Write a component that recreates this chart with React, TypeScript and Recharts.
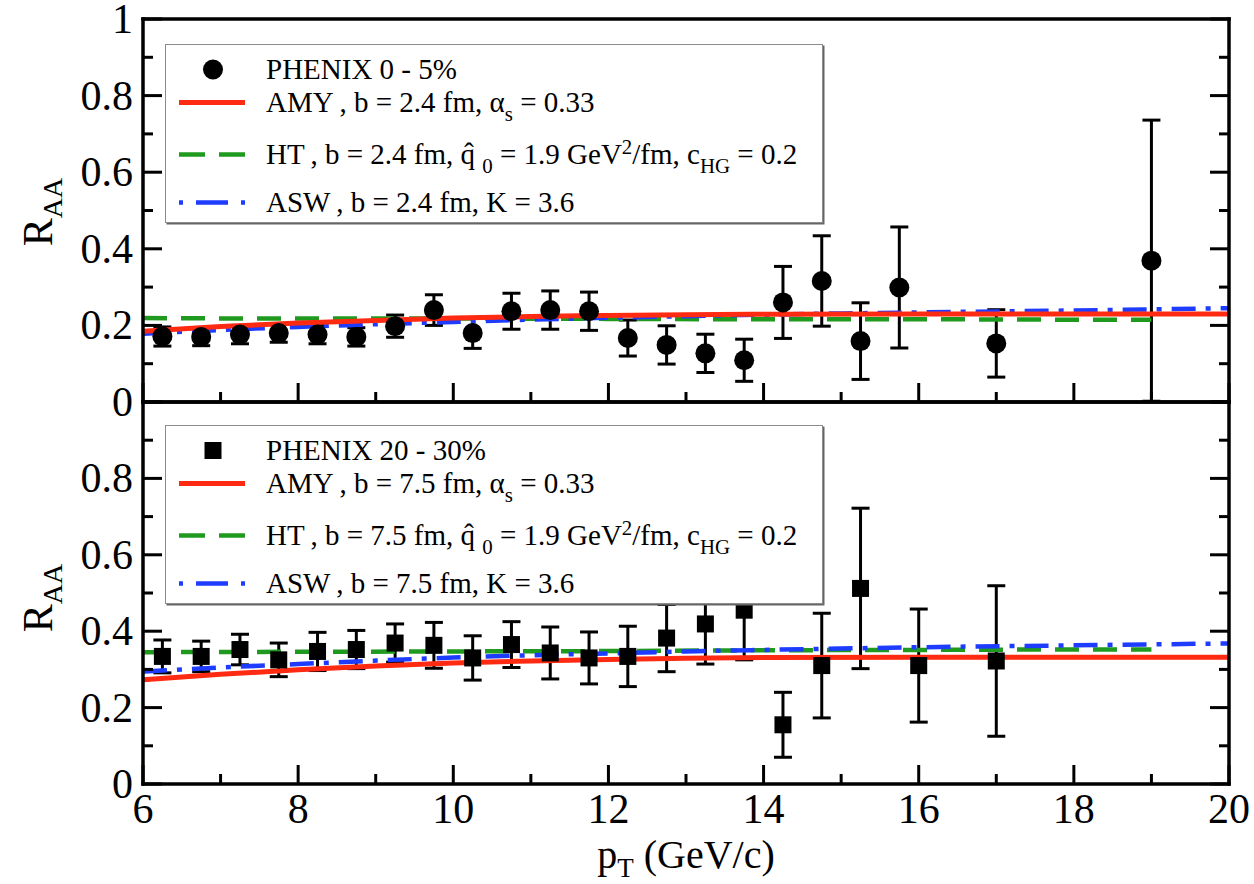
import React from "react";
import {ComposedChart, ErrorBar, Line, Scatter, XAxis, YAxis} from "recharts";

// PHENIX 0-5% (circles)
const centralPt = [6.25, 6.75, 7.25, 7.75, 8.25, 8.75, 9.25, 9.75, 10.25, 10.75, 11.25, 11.75, 12.25, 12.75, 13.25, 13.75, 14.25, 14.75, 15.25, 15.75, 17, 19];
const centralRaa = [0.171, 0.17, 0.176, 0.18, 0.176, 0.17, 0.198, 0.24, 0.18, 0.237, 0.24, 0.237, 0.167, 0.149, 0.127, 0.109, 0.26, 0.316, 0.159, 0.299, 0.153, 0.369];
const centralErr = [0.025, 0.023, 0.024, 0.024, 0.024, 0.024, 0.029, 0.04, 0.04, 0.047, 0.05, 0.05, 0.047, 0.05, 0.05, 0.055, 0.094, 0.118, 0.1, 0.158, 0.088, 0.367];

// PHENIX 20-30% (squares)
const midPt = [6.25, 6.75, 7.25, 7.75, 8.25, 8.75, 9.25, 9.75, 10.25, 10.75, 11.25, 11.75, 12.25, 12.75, 13.25, 13.75, 14.25, 14.75, 15.25, 16, 17];
const midRaa = [0.334, 0.334, 0.352, 0.325, 0.347, 0.352, 0.369, 0.363, 0.33, 0.365, 0.343, 0.33, 0.334, 0.382, 0.419, 0.455, 0.155, 0.31, 0.512, 0.31, 0.322];
const midErr = [0.043, 0.04, 0.04, 0.044, 0.05, 0.05, 0.05, 0.06, 0.058, 0.06, 0.068, 0.068, 0.079, 0.088, 0.105, 0.13, 0.085, 0.137, 0.21, 0.148, 0.197];

// model curves
const curvePt = [6, 7, 8, 9, 10, 11, 12, 13, 14, 16, 18, 20];
const amyCentral = [0.185, 0.197, 0.206, 0.213, 0.219, 0.223, 0.226, 0.228, 0.229, 0.23, 0.23, 0.23];
const aswCentral = [0.178, 0.188, 0.196, 0.203, 0.209, 0.215, 0.22, 0.224, 0.228, 0.234, 0.239, 0.245];
const amyMid = [0.273, 0.287, 0.299, 0.309, 0.317, 0.322, 0.326, 0.329, 0.331, 0.332, 0.332, 0.332];
const aswMid = [0.294, 0.305, 0.314, 0.323, 0.331, 0.337, 0.342, 0.347, 0.351, 0.358, 0.363, 0.368];
const htPt = [6, 8, 10, 12, 14, 16, 18, 19];
const htCentral = [0.219, 0.218, 0.218, 0.217, 0.216, 0.216, 0.215, 0.215];
const htMid = [0.345, 0.346, 0.347, 0.348, 0.35, 0.351, 0.352, 0.352];

const xTicks = [6, 7, 8, 9, 10, 11, 12, 13, 14, 15, 16, 17, 18, 19, 20];
const yTicks = [0, 0.1, 0.2, 0.3, 0.4, 0.5, 0.6, 0.7, 0.8, 0.9, 1];
const topYLabels = ["0", "0.2", "0.4", "0.6", "0.8", "1"];
const bottomYLabels = ["0", "0.2", "0.4", "0.6", "0.8"];

const FONT = "'Liberation Serif', 'Times New Roman', serif";
const RED = "#ff2a12";
const GREEN = "#1f9a1f";
const BLUE = "#1e3cff";
const HT_DASH = "24 14";
const ASW_DASH = "24 10 5 10";

const zip = (xs: number[], ys: number[], es?: number[]) =>
  xs.map((x, i) => (es ? {x, y: ys[i], err: es[i]} : {x, y: ys[i]}));

const frame = {stroke: "#000", strokeWidth: 3.5, strokeLinecap: "square" as const};

const XTick = ({x, y, payload, side, labels}: any) => {
  const major = payload.value % 2 === 0;
  const len = major ? 19 : 10;
  const dir = side === "top" ? 1 : -1;
  return (
    <g>
      <line x1={x} x2={x} y1={y} y2={y + dir * len} stroke="#000" strokeWidth={3} />
      {labels && major && (
        <text x={x} y={y + 39} textAnchor="middle" fontSize={42} fontFamily={FONT} fill="#000">
          {payload.value}
        </text>
      )}
    </g>
  );
};

const YTick = ({x, y, payload, side, labels}: any) => {
  const tenth = Math.round(payload.value * 10);
  const major = tenth % 2 === 0;
  const len = major ? 19 : 10;
  const dir = side === "right" ? -1 : 1;
  const text = String(tenth / 10);
  return (
    <g>
      <line x1={x} x2={x + dir * len} y1={y} y2={y} stroke="#000" strokeWidth={3} />
      {labels && major && labels.includes(text) && (
        <text x={x - 10} y={y + 14} textAnchor="end" fontSize={42} fontFamily={FONT} fill="#000">
          {text}
        </text>
      )}
    </g>
  );
};

type PanelProps = {
  top: number;
  bottom: number;
  points: {x: number; y: number; err?: number}[];
  marker: "circle" | "square";
  amy: number[];
  asw: number[];
  ht: number[];
  yLabels: string[];
  xLabels: boolean;
};

// axes get a 1px box so they are drawn; margins absorb it
const Panel = ({top, bottom, points, marker, amy, asw, ht, yLabels, xLabels}: PanelProps) => (
  <div style={{position: "absolute", left: 0, top: 0}}>
    <ComposedChart width={1254} height={884} margin={{top: top - 1, right: 24, bottom: bottom - 1, left: 142}}>
      <XAxis xAxisId="b" dataKey="x" type="number" domain={[6, 20]} ticks={xTicks} interval={0}
        height={1} tickSize={0} tickMargin={0} tickLine={false} axisLine={frame} allowDataOverflow
        tick={(p: any) => <XTick {...p} side="bottom" labels={xLabels} />} />
      <XAxis xAxisId="t" orientation="top" type="number" domain={[6, 20]} ticks={xTicks} interval={0}
        height={1} tickSize={0} tickMargin={0} tickLine={false} axisLine={frame} allowDataOverflow
        tick={(p: any) => <XTick {...p} side="top" />} />
      <YAxis yAxisId="l" dataKey="y" type="number" domain={[0, 1]} ticks={yTicks} interval={0}
        width={1} tickSize={0} tickMargin={0} tickLine={false} axisLine={frame} allowDataOverflow
        tick={(p: any) => <YTick {...p} side="left" labels={yLabels} />} />
      <YAxis yAxisId="r" orientation="right" type="number" domain={[0, 1]} ticks={yTicks} interval={0}
        width={1} tickSize={0} tickMargin={0} tickLine={false} axisLine={frame} allowDataOverflow
        tick={(p: any) => <YTick {...p} side="right" />} />
      <Scatter xAxisId="b" yAxisId="l" data={points} dataKey="y" isAnimationActive={false}
        shape={(p: any) =>
          marker === "circle"
            ? <circle cx={p.cx} cy={p.cy} r={10} fill="#000" />
            : <rect x={p.cx - 8.5} y={p.cy - 8.5} width={17} height={17} fill="#000" />}>
        <ErrorBar dataKey="err" direction="y" width={9} strokeWidth={3} stroke="#000" />
      </Scatter>
      <Line xAxisId="b" yAxisId="l" data={zip(htPt, ht)} dataKey="y" type="monotone" dot={false}
        stroke={GREEN} strokeWidth={4.5} strokeDasharray={HT_DASH} isAnimationActive={false} />
      <Line xAxisId="b" yAxisId="l" data={zip(curvePt, asw)} dataKey="y" type="monotone" dot={false}
        stroke={BLUE} strokeWidth={4.5} strokeDasharray={ASW_DASH} isAnimationActive={false} />
      <Line xAxisId="b" yAxisId="l" data={zip(curvePt, amy)} dataKey="y" type="monotone" dot={false}
        stroke={RED} strokeWidth={5} isAnimationActive={false} />
    </ComposedChart>
  </div>
);

const sub = {fontSize: "0.72em", position: "relative" as const, top: "0.42em"};
const sup = {fontSize: "0.72em", position: "relative" as const, top: "-0.5em"};

const Row = ({cy, icon, children}: {cy: number; icon: React.ReactNode; children: React.ReactNode}) => (
  <div style={{position: "absolute", left: 0, top: cy, transform: "translateY(-50%)", display: "flex", alignItems: "center", whiteSpace: "nowrap"}}>
    <svg width={90} height={24} style={{marginLeft: 10, marginRight: 0}}>{icon}</svg>
    <span>{children}</span>
  </div>
);

const LegendBox = ({top, b, marker, label}: {top: number; b: string; marker: "circle" | "square"; label: string}) => (
  <div style={{position: "absolute", left: 165, top, width: 656, height: 177, background: "#fff",
    border: "1.5px solid #8c8c8c", boxShadow: "1.5px 1.5px 0 #666", fontFamily: FONT, fontSize: 29, color: "#000"}}>
    <Row cy={24} icon={marker === "circle"
      ? <circle cx={37} cy={12} r={10} fill="#000" />
      : <rect x={28.5} y={3.5} width={17} height={17} fill="#000" />}>{label}</Row>
    <Row cy={57} icon={<line x1={3} x2={69} y1={12} y2={12} stroke={RED} strokeWidth={5} />}>
      AMY&thinsp;, b = {b} fm, α<span style={sub}>s</span> = 0.33
    </Row>
    <Row cy={109} icon={<line x1={3} x2={69} y1={12} y2={12} stroke={GREEN} strokeWidth={4.5} strokeDasharray="26 14" />}>
      HT&thinsp;, b = {b} fm, q&#770; <span style={sub}>0</span> = 1.9 GeV<span style={sup}>2</span>/fm, c<span style={sub}>HG</span> = 0.2
    </Row>
    <Row cy={157} icon={<line x1={3} x2={69} y1={12} y2={12} stroke={BLUE} strokeWidth={4.5} strokeDasharray="4 13 32 13 4 40" />}>
      ASW&thinsp;, b = {b} fm, K = 3.6
    </Row>
  </div>
);

const YTitle = ({cy}: {cy: number}) => (
  <div style={{position: "absolute", left: 38 - 100, top: cy - 25, width: 200, height: 50, lineHeight: "50px",
    textAlign: "center", transform: "rotate(-90deg)", fontFamily: FONT, fontSize: 42, color: "#000"}}>
    R<span style={{...sub, fontSize: 28, top: "0.35em"}}>AA</span>
  </div>
);

export default function App() {
  return (
    <div style={{position: "absolute", left: 0, top: 0, width: 1254, height: 884, background: "#fff", overflow: "hidden"}}>
      <Panel top={19} bottom={482} points={zip(centralPt, centralRaa, centralErr)} marker="circle"
        amy={amyCentral} asw={aswCentral} ht={htCentral} yLabels={topYLabels} xLabels={false} />
      <Panel top={402} bottom={100} points={zip(midPt, midRaa, midErr)} marker="square"
        amy={amyMid} asw={aswMid} ht={htMid} yLabels={bottomYLabels} xLabels />
      <LegendBox top={44} b="2.4" marker="circle" label="PHENIX 0 - 5%" />
      <LegendBox top={425} b="7.5" marker="square" label="PHENIX 20 - 30%" />
      <YTitle cy={212} />
      <YTitle cy={598} />
      <div style={{position: "absolute", left: 486, top: 835, width: 400, textAlign: "center", lineHeight: 1,
        fontFamily: FONT, fontSize: 40, color: "#000"}}>
        p<span style={{...sub, top: "0.35em", fontSize: 27}}>T</span> (GeV/c)
      </div>
    </div>
  );
}
